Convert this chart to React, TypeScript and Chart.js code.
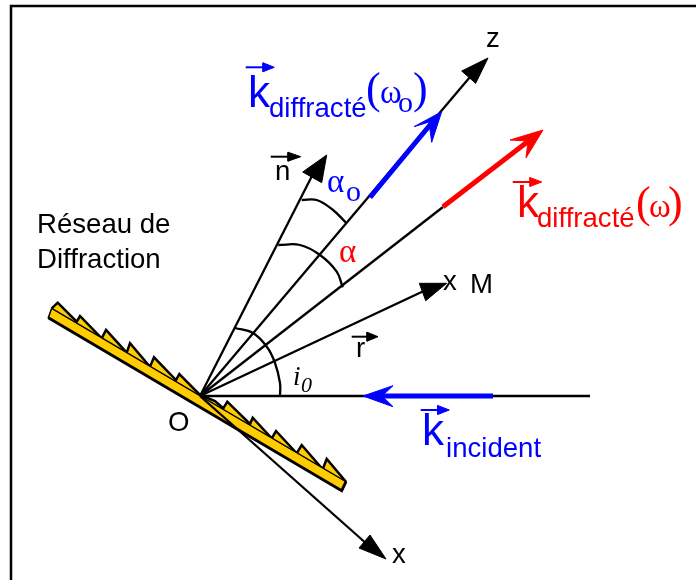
import React, { useEffect, useRef } from "react";
import { Chart, registerables } from "chart.js";

Chart.register(...registerables);

type P = [number, number];

const BLACK = "#000000";
const BLUE = "#0000ff";
const RED = "#ff0000";
const GOLD = "#ffcc00";
const SANS = "Liberation Sans";
const SERIF = "Liberation Serif";

const origin: P = [200, 396];
const frame: P[] = [[696, 6], [11, 6], [11, 580]];

const gratingTeeth: P[] = [
  [51.7, 308.3], [57.7, 302.7], [76.7, 321.7], [80, 316], [101.7, 338.3], [106, 330], [126.7, 352.7], [130, 343.3],
  [150, 366.7], [154, 357.3], [176, 380], [179.3, 374], [200, 395], [215, 401], [223.3, 408.3], [227.3, 401.7],
  [250, 424], [252.7, 417.7], [271.7, 438.3], [276, 431], [296.7, 453.3], [301.7, 445], [322.7, 469.3], [326.7, 459],
  [346, 481.7],
];
const gratingBase: P[] = [[51.7, 308.3], [346, 481.7], [341.7, 490.7], [48.3, 317.7], [51.7, 308.3]];
const gratingEdge: P[] = [[48.3, 317.7], [341.7, 490.7], [346, 481.7]];

const normalRay: P[] = [origin, [315, 170]];
const zRay: P[] = [origin, [470, 77]];
const redRay: P[] = [origin, [443, 207]];
const mRay: P[] = [origin, [428, 289]];
const xRay: P[] = [origin, [368, 545]];
const incidentRay: P[] = [origin, [590, 396]];

const normalHead: P[] = [[326.7, 155], [302.7, 172], [321.7, 182.7], [326.7, 155]];
const zHead: P[] = [[488, 58], [461.7, 71], [475.7, 83.3], [488, 58]];
const mHead: P[] = [[446.7, 283.3], [419.3, 283.3], [425.7, 300.7], [446.7, 283.3]];
const xHead: P[] = [[386, 559], [370, 535], [359, 548], [386, 559]];

const blueShaft: P[] = [[370, 197.3], [435, 119]];
const blueHead: P[] = [[441.7, 111.7], [414, 126.7], [429, 122], [431.7, 142.3], [441.7, 111.7]];
const redShaft: P[] = [[443, 206.7], [535, 136]];
const redHead: P[] = [[543, 130], [510, 140], [528, 141], [526, 158], [543, 130]];
const incidentShaft: P[] = [[493, 396], [375, 396]];
const incidentHead: P[] = [[363, 396], [393, 385.7], [382, 396], [393, 406.7], [363, 396]];

const arcIncidence: P[] = [[235, 328], [253, 333], [267, 347], [275, 363], [280, 383], [280, 396]];
const arcAlpha: P[] = [[278.3, 245], [300, 245], [320, 255], [336.7, 271.7], [342.7, 287.3]];
const arcAlphaO: P[] = [[301.7, 200], [316.7, 200], [333, 210], [346, 222.7]];

// small vector arrows above the symbols: [x start, x end, x of the head base, y, colour]
const vectorArrows: [number, number, number, number, string][] = [
  [245.7, 274.3, 263, 67.3, BLUE],
  [512.7, 541.7, 530, 182, RED],
  [270.7, 300.7, 288, 156.7, BLACK],
  [351.7, 378, 367, 336.7, BLACK],
  [420.7, 449.3, 437.7, 410, BLUE],
];

const textFont = `27.6px "${SANS}"`;
const bigFont = `44px "${SANS}"`;
const parenFont = `44px "${SERIF}"`;
const greekFont = `33px "${SERIF}"`;
const subFont = `30px "${SERIF}"`;

// [text, x, baseline y, font, colour]
const labels: [string, number, number, string, string][] = [
  ["z", 486, 47, textFont, BLACK],
  ["Réseau de", 37, 233, textFont, BLACK],
  ["Diffraction", 37, 268, textFont, BLACK],
  ["x", 443, 290, textFont, BLACK],
  ["M", 470, 293, textFont, BLACK],
  ["O", 168, 431, textFont, BLACK],
  ["x", 392, 563, textFont, BLACK],
  ["n", 275, 180, textFont, BLACK],
  ["r", 356, 357, textFont, BLACK],
  ["k", 248, 107, bigFont, BLUE],
  ["diffracté", 269, 117, textFont, BLUE],
  ["(", 366, 103, parenFont, BLUE],
  ["ω", 380, 103, greekFont, BLUE],
  ["o", 398, 112, subFont, BLUE],
  [")", 413, 103, parenFont, BLUE],
  ["k", 517, 217, bigFont, RED],
  ["diffracté", 537, 227, textFont, RED],
  ["(", 636, 217, parenFont, RED],
  ["ω", 649, 217, greekFont, RED],
  [")", 668, 217, parenFont, RED],
  ["k", 422, 445, bigFont, BLUE],
  ["incident", 446, 457, textFont, BLUE],
  ["α", 327, 192, greekFont, BLUE],
  ["o", 346, 201, subFont, BLUE],
  ["α", 339, 262, greekFont, RED],
  ["i", 293, 385, `italic 27px "${SERIF}"`, BLACK],
  ["0", 301, 392, `italic 22px "${SERIF}"`, BLACK],
];

const toXY = (pts: P[]) => pts.map(([x, y]) => ({ x, y }));

const stroke = (pts: P[], color: string, width: number, tension = 0) => ({
  data: toXY(pts),
  showLine: true,
  borderColor: color,
  borderWidth: width,
  borderJoinStyle: "miter",
  borderCapStyle: "butt",
  backgroundColor: "transparent",
  pointRadius: 0,
  tension,
  clip: false,
});

const filled = (pts: P[], color: string, edge = color, width = 1) => ({
  ...stroke(pts, edge, width),
  backgroundColor: color,
  fill: "shape",
});

const vectorDatasets = vectorArrows.flatMap(([x0, x1, xb, y, c]) => [
  stroke([[x0, y], [xb + 1, y]], c, 2),
  filled([[x1, y], [xb, y - 4.5], [xb, y + 4.5], [x1, y]], c),
]);

// painted first to last
const paintOrder = [
  stroke(frame, BLACK, 2.5),
  filled(gratingTeeth, GOLD, BLACK, 2.5),
  filled(gratingBase, GOLD, BLACK, 1.5),
  stroke(gratingEdge, BLACK, 2.8),
  stroke(incidentRay, BLACK, 2.4),
  stroke(normalRay, BLACK, 2.3),
  stroke(zRay, BLACK, 2.3),
  stroke(redRay, BLACK, 2.3),
  stroke(mRay, BLACK, 2.3),
  stroke(xRay, BLACK, 2.3),
  stroke(arcIncidence, BLACK, 2.3, 0.4),
  stroke(arcAlpha, BLACK, 2.3, 0.4),
  stroke(arcAlphaO, BLACK, 2.3, 0.4),
  filled(normalHead, BLACK),
  filled(zHead, BLACK),
  filled(mHead, BLACK),
  filled(xHead, BLACK),
  stroke(blueShaft, BLUE, 5),
  filled(blueHead, BLUE),
  stroke(redShaft, RED, 5),
  filled(redHead, RED),
  stroke(incidentShaft, BLUE, 5),
  filled(incidentHead, BLUE),
  ...vectorDatasets,
];

const labelPlugin = {
  id: "diagramLabels",
  afterDatasetsDraw(chart: any) {
    const { ctx, scales } = chart;
    ctx.save();
    ctx.textAlign = "left";
    ctx.textBaseline = "alphabetic";
    for (const [text, x, y, font, color] of labels) {
      ctx.font = font;
      ctx.fillStyle = color;
      ctx.fillText(text, scales.x.getPixelForValue(x), scales.y.getPixelForValue(y));
    }
    ctx.restore();
  },
};

export default function App() {
  const ref = useRef<HTMLCanvasElement>(null);
  useEffect(() => {
    const chart = new Chart(ref.current as HTMLCanvasElement, {
      type: "scatter",
      data: { datasets: [...paintOrder].reverse() as any },
      options: {
        animation: false,
        responsive: false,
        layout: { padding: 0 },
        plugins: { legend: { display: false }, tooltip: { enabled: false }, title: { display: false } },
        scales: {
          x: { type: "linear", min: 0, max: 696, display: false },
          y: { type: "linear", min: 0, max: 580, reverse: true, display: false },
        },
      },
      plugins: [labelPlugin],
    });
    return () => chart.destroy();
  }, []);
  return (
    <div style={{ position: "fixed", left: 0, top: 0, width: 696, height: 580, background: "#fff" }}>
      <canvas ref={ref} width={696} height={580} style={{ display: "block" }} />
    </div>
  );
}
